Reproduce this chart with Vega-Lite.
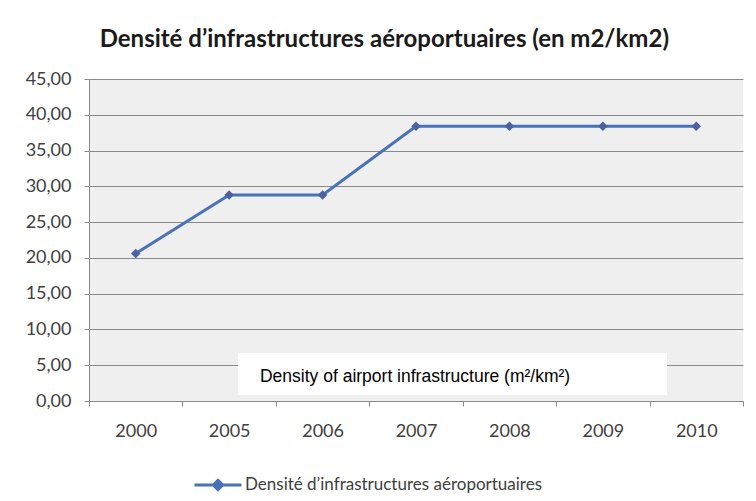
{
  "$schema": "https://vega.github.io/schema/vega-lite/v6.json",
  "width": 654,
  "height": 322,
  "autosize": {"type": "none"},
  "padding": {"left": 89, "top": 79, "right": 13, "bottom": 100},
  "background": "white",
  "title": {
    "text": "Densité d’infrastructures aéroportuaires (en m2/km2)",
    "font": "Lato",
    "fontSize": 24,
    "fontWeight": "bold",
    "color": "#1a1a1a",
    "anchor": "middle",
    "frame": "bounds",
    "offset": 18
  },
  "config": {
    "view": {"fill": "#efefef", "stroke": null}
  },
  "resolve": {"scale": {"x": "independent"}},
  "layer": [
    {
      "data": {
        "values": [
          {"year": "2000", "value": 20.6, "series": "Densité d’infrastructures aéroportuaires"},
          {"year": "2005", "value": 28.8, "series": "Densité d’infrastructures aéroportuaires"},
          {"year": "2006", "value": 28.8, "series": "Densité d’infrastructures aéroportuaires"},
          {"year": "2007", "value": 38.4, "series": "Densité d’infrastructures aéroportuaires"},
          {"year": "2008", "value": 38.4, "series": "Densité d’infrastructures aéroportuaires"},
          {"year": "2009", "value": 38.4, "series": "Densité d’infrastructures aéroportuaires"},
          {"year": "2010", "value": 38.4, "series": "Densité d’infrastructures aéroportuaires"}
        ]
      },
      "encoding": {
        "x": {
          "field": "year",
          "type": "nominal",
          "scale": {"type": "band", "paddingInner": 0, "paddingOuter": 0},
          "axis": {
            "title": null,
            "labelAngle": 0,
            "labelFont": "Lato",
            "labelFontSize": 18,
            "labelColor": "#404040",
            "labelPadding": 16,
            "domainColor": "#8a8a8a",
            "tickColor": "#8a8a8a",
            "tickSize": 5,
            "tickBand": "extent",
            "grid": false
          }
        },
        "y": {
          "field": "value",
          "type": "quantitative",
          "scale": {"domain": [0, 45], "nice": false},
          "axis": {
            "title": null,
            "values": [0, 5, 10, 15, 20, 25, 30, 35, 40, 45],
            "labelExpr": "replace(format(datum.value, '.2f'), '.', ',')",
            "labelFont": "Lato",
            "labelFontSize": 18,
            "labelColor": "#404040",
            "labelPadding": 13,
            "domainColor": "#8a8a8a",
            "tickColor": "#8a8a8a",
            "tickSize": 5,
            "grid": true,
            "gridColor": "#8a8a8a",
            "gridWidth": 1
          }
        }
      },
      "layer": [
        {
          "mark": {"type": "line", "strokeWidth": 3},
          "encoding": {
            "color": {
              "field": "series",
              "type": "nominal",
              "scale": {"range": ["#4A72B8"]},
              "legend": {
                "title": null,
                "orient": "none",
                "legendX": 104,
                "legendY": 381,
                "labelFont": "Lato",
                "labelFontSize": 17,
                "labelColor": "#404040",
                "labelOffset": 2,
                "labelLimit": 0,
                "symbolType": "M-1,0L1,0M0,-0.2L0.2,0L0,0.2L-0.2,0Z",
                "symbolSize": 2200,
                "symbolStrokeWidth": 3,
                "symbolStrokeColor": "#4A62A0",
                "symbolFillColor": "#4A62A0"
              }
            }
          }
        },
        {
          "mark": {"type": "point", "shape": "diamond", "filled": true, "size": 90, "color": "#4A62A0", "opacity": 1}
        }
      ]
    },
    {
      "data": {"values": [{"x0": 1.595, "x1": 6.187, "value": 0.84, "value2": 6.7}]},
      "mark": {"type": "rect", "fill": "white"},
      "encoding": {
        "x": {"field": "x0", "type": "quantitative", "scale": {"domain": [0, 7], "nice": false}, "axis": null},
        "x2": {"field": "x1"},
        "y": {
          "field": "value",
          "type": "quantitative",
          "scale": {"domain": [0, 45], "nice": false},
          "axis": {
            "title": null,
            "values": [0, 5, 10, 15, 20, 25, 30, 35, 40, 45],
            "labelExpr": "replace(format(datum.value, '.2f'), '.', ',')",
            "labelFont": "Lato",
            "labelFontSize": 18,
            "labelColor": "#404040",
            "labelPadding": 13,
            "domainColor": "#8a8a8a",
            "tickColor": "#8a8a8a",
            "tickSize": 5,
            "grid": true,
            "gridColor": "#8a8a8a",
            "gridWidth": 1
          }
        },
        "y2": {"field": "value2"}
      }
    },
    {
      "data": {"values": [{"tx": 1.83, "value": 3.35, "label": "Density of airport infrastructure (m²/km²)"}]},
      "mark": {"type": "text", "align": "left", "baseline": "middle", "font": "Liberation Sans", "fontSize": 17.5, "color": "black"},
      "encoding": {
        "x": {"field": "tx", "type": "quantitative", "scale": {"domain": [0, 7], "nice": false}, "axis": null},
        "y": {
          "field": "value",
          "type": "quantitative",
          "scale": {"domain": [0, 45], "nice": false},
          "axis": {
            "title": null,
            "values": [0, 5, 10, 15, 20, 25, 30, 35, 40, 45],
            "labelExpr": "replace(format(datum.value, '.2f'), '.', ',')",
            "labelFont": "Lato",
            "labelFontSize": 18,
            "labelColor": "#404040",
            "labelPadding": 13,
            "domainColor": "#8a8a8a",
            "tickColor": "#8a8a8a",
            "tickSize": 5,
            "grid": true,
            "gridColor": "#8a8a8a",
            "gridWidth": 1
          }
        },
        "text": {"field": "label"}
      }
    }
  ]
}
